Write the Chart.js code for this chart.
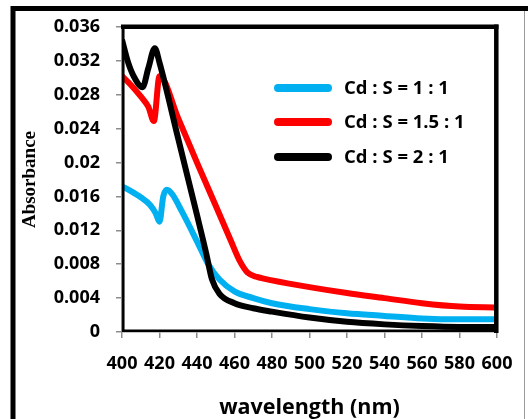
<!DOCTYPE html>
<html><head><meta charset="utf-8">
<script src="https://cdn.jsdelivr.net/npm/chart.js@4/dist/chart.umd.min.js"></script>
<style>html,body{margin:0;padding:0;background:#fff;}canvas{display:block;}</style>
</head><body>
<canvas id="c" width="528" height="419"></canvas>
<script>
const seriesLabels = ['Cd : S = 1 : 1', 'Cd : S = 1.5 : 1', 'Cd : S = 2 : 1'];
const seriesColors = ['#00B0F0', '#FF0000', '#000000'];

const wlBlue  = [400, 405, 410, 415, 418, 420, 422, 424, 427, 432, 440, 446, 452, 460, 470, 480, 500, 520, 540, 560, 580, 600];
const absBlue = [0.0172, 0.0166, 0.0159, 0.0150, 0.0140, 0.0130, 0.0160, 0.0168, 0.0162, 0.0142, 0.0107, 0.0080, 0.0062, 0.0048, 0.0040, 0.0034, 0.0027, 0.0022, 0.0019, 0.0016, 0.0015, 0.0015];

const wlRed  = [400, 405, 410, 414, 417, 420, 430, 440, 450, 458, 463, 467, 472, 480, 500, 520, 540, 560, 580, 600];
const absRed = [0.0302, 0.0291, 0.0278, 0.0266, 0.0249, 0.0302, 0.0252, 0.0200, 0.0149, 0.0108, 0.0083, 0.0070, 0.0065, 0.0061, 0.0053, 0.0046, 0.0040, 0.0034, 0.0030, 0.0029];

const wlBlack  = [400, 403, 406, 411, 414, 417.5, 420, 430, 440, 445, 448, 452, 460, 470, 480, 500, 520, 540, 560, 580, 600];
const absBlack = [0.0345, 0.0320, 0.0303, 0.0289, 0.0311, 0.0335, 0.0318, 0.0228, 0.0138, 0.0092, 0.0062, 0.0045, 0.0034, 0.0028, 0.0024, 0.0017, 0.0012, 0.0009, 0.0007, 0.0006, 0.0006];

const xTickLabels = ['400', '420', '440', '460', '480', '500', '520', '540', '560', '580', '600'];
const yTickLabels = ['0', '0.004', '0.008', '0.012', '0.016', '0.02', '0.024', '0.028', '0.032', '0.036'];
const xAxisTitle = 'wavelength (nm)';
const yAxisTitle = 'Absorbance';

function pts(xs, ys) { return xs.map((x, i) => ({x: x, y: ys[i]})); }

const tickFont = {family: 'Open Sans', weight: 'bold', size: 18};

const framePlugin = {
  id: 'frames',
  afterDatasetsDraw(chart) {
    const ctx = chart.ctx, a = chart.chartArea;
    ctx.save();
    ctx.strokeStyle = '#000';
    ctx.lineCap = 'butt';
    ctx.lineWidth = 4.5;
    ctx.beginPath(); ctx.moveTo(a.left - 1, a.top - 0.3); ctx.lineTo(a.right + 1.5, a.top - 0.3); ctx.stroke();
    ctx.beginPath(); ctx.moveTo(a.right - 0.7, a.top - 2.5); ctx.lineTo(a.right - 0.7, a.bottom + 1); ctx.stroke();
    ctx.lineWidth = 2.5;
    ctx.beginPath(); ctx.moveTo(a.left + 1.3, a.top); ctx.lineTo(a.left + 1.3, a.bottom); ctx.stroke();
    ctx.beginPath(); ctx.moveTo(a.left, a.bottom - 1.2); ctx.lineTo(a.right, a.bottom - 1.2); ctx.stroke();
    ctx.restore();
  },
  afterDraw(chart) {
    const ctx = chart.ctx;
    ctx.save();
    ctx.strokeStyle = '#000';
    ctx.lineWidth = 5;
    ctx.beginPath(); ctx.moveTo(13, 419); ctx.lineTo(13, 8.5); ctx.lineTo(528, 8.5); ctx.stroke();
    ctx.strokeStyle = '#9a9a9a';
    ctx.lineWidth = 1;
    ctx.beginPath(); ctx.moveTo(524.5, 11); ctx.lineTo(524.5, 419); ctx.stroke();
    const ys = [88, 122, 157];
    ctx.font = 'bold 18.5px "Open Sans"';
    ctx.textBaseline = 'middle';
    ctx.textAlign = 'left';
    seriesLabels.forEach((lab, i) => {
      ctx.strokeStyle = seriesColors[i];
      ctx.lineWidth = 8;
      ctx.lineCap = 'round';
      ctx.beginPath(); ctx.moveTo(278, ys[i]); ctx.lineTo(328, ys[i]); ctx.stroke();
      ctx.fillStyle = '#000';
      ctx.fillText(lab, 344, ys[i] + 1);
    });
    ctx.restore();
  }
};

new Chart(document.getElementById('c'), {
  type: 'line',
  data: {
    datasets: [
      {label: seriesLabels[0], data: pts(wlBlue, absBlue), borderColor: seriesColors[0], order: 3},
      {label: seriesLabels[1], data: pts(wlRed, absRed), borderColor: seriesColors[1], order: 2},
      {label: seriesLabels[2], data: pts(wlBlack, absBlack), borderColor: seriesColors[2], order: 1}
    ]
  },
  options: {
    responsive: false,
    animation: false,
    devicePixelRatio: 1,
    layout: {padding: {left: 0, top: 27, right: 31, bottom: 0}},
    elements: {
      line: {borderWidth: 6, cubicInterpolationMode: 'monotone', borderJoinStyle: 'round', borderCapStyle: 'butt'},
      point: {radius: 0, hoverRadius: 0}
    },
    plugins: {legend: {display: false}, tooltip: {enabled: false}},
    scales: {
      x: {
        type: 'linear', min: 400, max: 600,
        afterBuildTicks: s => { s.ticks = xTickLabels.map(t => ({value: +t})); },
        afterFit: s => { s.height = 87; },
        grid: {drawOnChartArea: false, drawTicks: true, tickLength: 6, color: '#8c8c8c', lineWidth: 1.5},
        border: {color: '#8c8c8c', width: 1.5},
        ticks: {color: '#000', font: tickFont, padding: 15, maxRotation: 0, autoSkip: false,
                callback: (v, i) => xTickLabels[i]},
        title: {display: true, text: xAxisTitle, color: '#000', align: 'center',
                font: {family: 'Open Sans', weight: 'bold', size: 21.5, lineHeight: 1},
                padding: {top: 0, bottom: 0}}
      },
      y: {
        type: 'linear', min: 0, max: 0.036,
        afterBuildTicks: s => { s.ticks = yTickLabels.map(t => ({value: +t})); },
        afterFit: s => { s.width = 122; },
        grid: {drawOnChartArea: false, drawTicks: true, tickLength: 6, color: '#8c8c8c', lineWidth: 1.5},
        border: {color: '#8c8c8c', width: 1.5},
        ticks: {color: '#000', font: tickFont, padding: 16, autoSkip: false,
                callback: (v, i) => yTickLabels[i]},
        title: {display: true, text: yAxisTitle, color: '#000',
                font: {family: 'Liberation Serif', weight: 'bold', size: 19, lineHeight: 1},
                padding: {top: 21, bottom: 0}}
      }
    }
  },
  plugins: [framePlugin]
});
</script>
</body></html>
